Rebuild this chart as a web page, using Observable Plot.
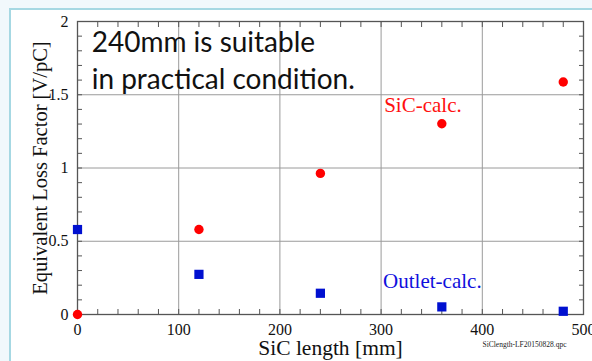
<!DOCTYPE html>
<html>
<head>
<meta charset="utf-8">
<script src="https://cdn.jsdelivr.net/npm/d3@7"></script>
<script src="https://cdn.jsdelivr.net/npm/@observablehq/plot@0.6"></script>
<style>
  html, body { margin: 0; padding: 0; }
  body { width: 592px; height: 361px; background: #f1f8fc; position: relative; overflow: hidden; }
  #panel { position: absolute; left: 9px; top: 8px; right: 0; bottom: 0; background: #fff;
           border-left: 2px solid #a6d8e3; border-top: 2px solid #a6d8e3; }
  #chart { position: absolute; left: 0; top: 0; }
</style>
</head>
<body>
<div id="panel"></div>
<div id="chart"></div>
<script>
const sicLength = [0, 120, 240, 360, 480];
const sicCalc = [0, 0.58, 0.963, 1.302, 1.587];
const outletCalc = [0.58, 0.274, 0.145, 0.052, 0.022];
const xTicks = [0, 100, 200, 300, 400, 500];
const yTicks = [0, 0.5, 1, 1.5, 2];
const xMinor = d3.range(0, 501, 20);
const yMinor = d3.range(0, 21, 1).map(d => d / 10);
const xLabel = "SiC length [mm]";
const yLabel = "Equivalent Loss Factor [V/pC]";
const note = "240mm is suitable\nin practical condition.";
const sicName = "SiC-calc.";
const outletName = "Outlet-calc.";
const fileName = "SiClength-LF20150828.qpc";

const sicRows = sicLength.map((x, i) => ({x, y: sicCalc[i]}));
const outletRows = sicLength.map((x, i) => ({x, y: outletCalc[i]}));

const empty = () => "";
const plot = Plot.plot({
  width: 592,
  height: 361,
  marginLeft: 77,
  marginRight: 9,
  marginTop: 21,
  marginBottom: 47,
  style: "background: transparent; font-family: 'Liberation Serif', serif; overflow: visible;",
  x: {domain: [0, 500]},
  y: {domain: [0, 2]},
  marks: [
    Plot.gridX(xTicks, {stroke: "#9a9a9a", strokeOpacity: 1, strokeWidth: 1}),
    Plot.gridY(yTicks, {stroke: "#9a9a9a", strokeOpacity: 1, strokeWidth: 1}),
    // inward minor ticks on all four sides
    Plot.axisX(xMinor, {anchor: "bottom", tickSize: 5, dy: -5, tickFormat: empty, label: null, stroke: "#555"}),
    Plot.axisX(xMinor, {anchor: "top", tickSize: 5, dy: 5, tickFormat: empty, label: null, stroke: "#555"}),
    Plot.axisY(yMinor, {anchor: "left", tickSize: 5, dx: 5, tickFormat: empty, label: null, stroke: "#555"}),
    Plot.axisY(yMinor, {anchor: "right", tickSize: 5, dx: -5, tickFormat: empty, label: null, stroke: "#555"}),
    // tick labels
    Plot.axisX(xTicks, {anchor: "bottom", tickSize: 0, tickPadding: 9, tickFormat: d => String(d), label: null, fontSize: 16, fill: "#111"}),
    Plot.axisY(yTicks, {anchor: "left", tickSize: 0, tickPadding: 9, tickFormat: d => String(d), label: null, fontSize: 16, fill: "#111"}),
    Plot.frame({stroke: "#555", strokeWidth: 1.3}),
    // axis titles
    Plot.text([xLabel], {frameAnchor: "bottom", dy: 34, fontSize: 21.5, fill: "#111", textAnchor: "middle", lineAnchor: "middle"}),
    Plot.text([yLabel], {frameAnchor: "left", dx: -37, rotate: -90, fontSize: 20.5, fill: "#111", textAnchor: "middle", lineAnchor: "middle"}),
    // annotations
    Plot.text([note], {x: 14, y: 1.968, text: d => d, textAnchor: "start", lineAnchor: "top", lineHeight: 1.31,
                       fontFamily: "Lato, 'Open Sans', sans-serif", fontSize: 28, fill: "#111"}),
    Plot.text([sicName], {x: 303, y: 1.43, text: d => d, textAnchor: "start", lineAnchor: "middle", fontSize: 21, fill: "#ff1010"}),
    Plot.text([outletName], {x: 302, y: 0.225, text: d => d, textAnchor: "start", lineAnchor: "middle", fontSize: 21, fill: "#1010dd"}),
    Plot.text([fileName], {frameAnchor: "bottom-right", dx: -101, dy: 30, textAnchor: "start", lineAnchor: "middle", fontSize: 7.5, fill: "#222"}),
    // data
    Plot.dot(outletRows, {x: "x", y: "y", symbol: "square", r: 5.2, fill: "#0010d0", stroke: null}),
    Plot.dot(sicRows, {x: "x", y: "y", r: 4.7, fill: "#ff0000", stroke: null})
  ]
});
document.getElementById("chart").appendChild(plot);
</script>
</body>
</html>
